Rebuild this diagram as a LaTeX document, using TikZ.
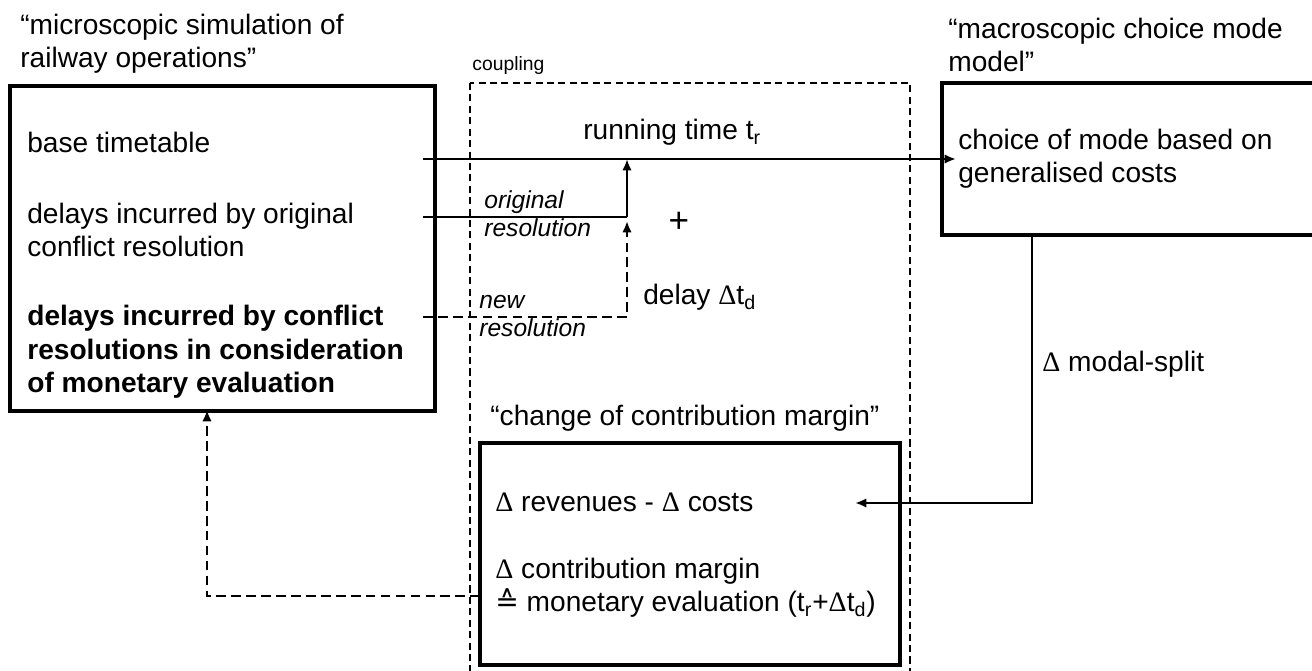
\documentclass[tikz,border=0pt]{standalone}
\usepackage{fontspec}
\setmainfont{Liberation Sans}
\newfontfamily\symfont{Liberation Serif}
\newfontfamily\opfont{DejaVu Sans}
\usetikzlibrary{arrows.meta}
\def\dlt{{\symfont Δ}}

\tikzset{
	box/.style={line width=1.8pt},
	conn/.style={line width=1.4pt},
	tip/.style={-{Latex[length=6.5pt,width=5.4pt]}},
	dashline/.style={dash pattern=on 5.5pt off 3pt},
	couple/.style={line width=0.75pt, dash pattern=on 4pt off 2.5pt},
	txt/.style={inner sep=0pt, anchor=base west, align=left, font=\fontsize{16}{19.2}\selectfont},
	note/.style={txt, font=\fontsize{14}{16.4}\selectfont\itshape},
}

\begin{document}
\begin{tikzpicture}[x=0.02cm, y=-0.02cm]
		%%%%% START %%%%%
		\useasboundingbox (0,0) rectangle (1312,671);
		
		% boxes
		\draw[box] (10,86) rectangle (435,411);
		\draw[box] (942,83) rectangle (1330,235);
		\draw[box] (480,443) rectangle (900,665);
		\draw[couple] (470,83) rectangle (910,690);
		
		% microscopic simulation (base = last line)
		\node[txt] (micro title) at (20,68) {“microscopic simulation of\\railway operations”};
		\node[txt] (base tt) at (27,153) {base timetable};
		\node[txt] (orig delay) at (27,257) {delays incurred by original\\conflict resolution};
		\node[txt, font=\fontsize{16}{19.2}\selectfont\bfseries] (new delay) at (27,393) {delays incurred by conflict\\resolutions in consideration\\of monetary evaluation};
		
		% coupling
		\node[txt, font=\fontsize{11}{13}\selectfont] (couple lbl) at (472,71) {coupling};
		\node[txt] (run lbl) at (583,140) {running time t\textsubscript{r}};
		\node[note] (orig lbl) at (484,237) {original\\resolution};
		\node[note] (new lbl) at (479,337) {new\\resolution};
		\node[txt, anchor=center, font=\fontsize{20}{24}\selectfont] (plus) at (679,222) {+};
		\node[txt] (delay lbl) at (643,305) {delay \dlt t\textsubscript{d}};
		
		% macroscopic model
		\node[txt] (macro title) at (948,72) {“macroscopic choice mode\\model”};
		\node[txt] (choice) at (958,183) {choice of mode based on\\generalised costs};
		\node[txt] (split lbl) at (1042,372) {\dlt\ modal-split};
		
		% contribution margin
		\node[txt] (margin title) at (490,426) {“change of contribution margin”};
		\node[txt] (revenue) at (495,512) {\dlt\ revenues - \dlt\ costs};
		\node[txt] (margin) at (495,612) {\dlt\ contribution margin\\{\opfont ≙} monetary evaluation (t\textsubscript{r}+\dlt t\textsubscript{d})};
		
		% connectors
		\coordinate (run start) at (423,159);
		\coordinate (run end) at (956,159);
		\coordinate (run join) at (627,159);
		\coordinate (orig start) at (423,217);
		\coordinate (orig join) at (627,217);
		\coordinate (new start) at (423,317);
		\coordinate (new join) at (627,317);
		\coordinate (new end) at (627,221);
		\coordinate (split start) at (1032,235);
		\coordinate (split bend) at (1032,503);
		\coordinate (split end) at (855,503);
		\coordinate (back start) at (480,596);
		\coordinate (back bend) at (207,596);
		\coordinate (back end) at (207,410);
		
		\draw[conn, tip] (run start) -- (run end);
		\draw[conn] (orig start) -- (orig join);
		\draw[conn, tip] (orig join) -- (run join);
		\draw[conn, dashline, tip] (new start) -- (new join) -- (new end);
		\draw[conn, tip] (split start) -- (split bend) -- (split end);
		\draw[conn, dashline, tip] (back start) -- (back bend) -- (back end);
		
		%%%%% END %%%%%
	\end{tikzpicture}
\end{document}
